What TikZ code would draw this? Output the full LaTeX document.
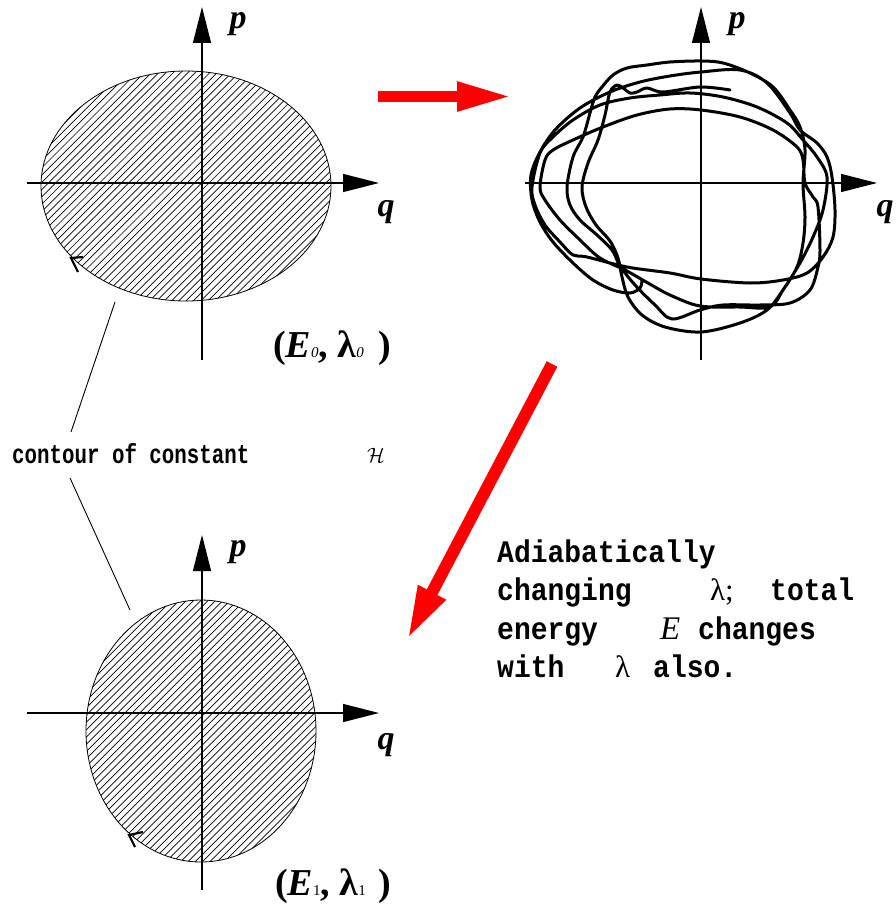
\documentclass[tikz,border=0pt]{standalone}
\usepackage{fontspec}
\setmainfont{Liberation Serif}
\newfontfamily\monofont{Liberation Mono}
\usetikzlibrary{arrows.meta}
\newcommand{\tallish}[1]{\scalebox{1}[1.12]{#1}}
\newcommand{\taller}[1]{\scalebox{1}[1.3]{#1}}
\begin{document}
\begin{tikzpicture}[x=1pt,y=-1pt,
  axis/.style={line width=1.2pt, -{Triangle[length=36pt,width=18pt]}},
  hatch/.style={line width=0.7pt},
  rim/.style={line width=0.8pt},
  chev/.style={line width=2.2pt, line join=miter},
  tangle/.style={line width=3pt, line join=round, line cap=round},
  bigarrow/.style={draw=red, line width=11pt, -{Triangle[length=55pt,width=27pt,fill=red]}},
  axlab/.style={font=\fontsize{34}{34}\selectfont\bfseries\itshape, inner sep=0pt},
  statelab/.style={font=\fontsize{38}{38}\selectfont\bfseries, inner sep=0pt, anchor=west},
  mono/.style={font=\monofont\bfseries\fontsize{28}{28}\selectfont, anchor=base west, inner sep=0pt},
  monosmall/.style={font=\monofont\bfseries\fontsize{20.8}{20.8}\selectfont, anchor=base west, inner sep=0pt},
  serifin/.style={font=\fontsize{31}{31}\selectfont, anchor=base west, inner sep=0pt},
  leader/.style={line width=0.9pt}
]
\useasboundingbox (0,0) rectangle (896,907);

% ---------- top-left: ellipse (E0, lambda0)
\begin{scope}
  \clip (186,186) ellipse [x radius=145pt, y radius=115pt];
  \foreach \c in {100,107.3,...,660} {\draw[hatch] (\c-400,400) -- (\c,0);}
\end{scope}
\draw[rim] (186,186) ellipse [x radius=145pt, y radius=115pt];
\coordinate (tlS) at (202,360); \coordinate (tlN) at (202,7);
\coordinate (tlW) at (27,183);  \coordinate (tlE) at (379,183);
\draw[axis] (tlS) -- (tlN);
\draw[axis] (tlW) -- (tlE);
\node[axlab] (tlp) at (238,24) {p};
\node[axlab] (tlq) at (386,212) {q};
\draw[chev] (83,257) -- (71,258) -- (78,272);
\node[statelab] (s0) at (273,348) {(\textit{E}{\fontsize{15}{15}\selectfont\mdseries\itshape 0},\hspace{0.25em}λ{\fontsize{15}{15}\selectfont\mdseries\itshape 0}\hspace{15pt})};

% ---------- top-right: tangled trajectory
\coordinate (trS) at (701,360); \coordinate (trN) at (701,7);
\coordinate (trW) at (525,183); \coordinate (trE) at (877,183);
\draw[axis] (trS) -- (trN);
\draw[axis] (trW) -- (trE);
\node[axlab] (trp) at (737,24) {p};
\node[axlab] (trq) at (885,212) {q};
\draw[tangle] plot[smooth, tension=0.55] coordinates {
 (730,90) (700,87) (663,92) (647,88) (637,92) (630,93) (623,88) (617,85) (610,92) (605,115) (598,140) (588,163) (582,187) (586,207) (596,225) (610,241) (618,258) (622,277) (628,297) (642,315) (665,327) (701,332) (740,323) (767,310) (783,290) (797,267) (803,243) (805,217) (803,183) (805,150) (800,127) (790,110) (773,87) (750,73) (723,63) (701,61) (670,62) (647,65) (627,68) (613,75) (602,87) (595,97) (590,113) (583,137) (573,157) (567,187) (570,205) (580,220) (597,235) (612,250) (620,266) (635,285) (655,305) (672,319) (700,310) (723,305) (760,305) (790,303) (810,290) (818,267) (820,250) (818,207) (813,197) (805,183) (803,160) (797,147) (773,130) (740,117) (701,110) (670,109) (637,115) (603,127) (573,140) (553,150) (545,160) (540,187) (545,200) (560,220) (580,240) (600,258) (625,270) (648,283) (670,295) (700,306) (740,307) (770,307) (783,290) (800,263) (813,237) (823,210) (827,177) (817,157) (803,140) (787,123) (757,107) (723,97) (690,93) (660,95) (630,98) (600,105) (573,120) (553,137) (540,153) (532,187) (535,205) (545,225) (560,242) (573,255) (587,257) (627,267) (670,273) (701,279) (750,283) (783,280) (807,273) (823,257) (833,237) (835,210) (832,177) (827,157) (817,143) (800,130) (790,113) (767,83) (740,70) (701,72) (670,76) (640,82) (610,92) (580,108) (555,130) (540,152) (531,175) (532,200) (540,222) (553,242) (573,263) (593,280) (613,290) (630,293) (640,288) (642,280)};

% ---------- red arrows
\coordinate (ra1) at (378,96.5); \coordinate (ra2) at (512,96.5);
\draw[bigarrow] (ra1) -- (ra2);
\coordinate (da1) at (552,364); \coordinate (da2) at (407,640);
\draw[bigarrow, line width=12pt, -{Triangle[length=54pt,width=28pt,fill=red]}] (da1) -- (da2);

% ---------- contour label and leaders
\node[monosmall] (contour) at (12,463) {\taller{contour of constant}};
\node[font=\fontsize{20}{20}\selectfont, inner sep=0pt] (ham) at (376,455) {$\mathcal{H}$};
\coordinate (ld1a) at (115,302); \coordinate (ld1b) at (71,432);
\coordinate (ld2a) at (70,478);  \coordinate (ld2b) at (130,610);
\draw[leader] (ld1a) -- (ld1b);
\draw[leader] (ld2a) -- (ld2b);

% ---------- bottom-left: ellipse (E1, lambda1)
\begin{scope}
  \clip (201,731) ellipse [x radius=115pt, y radius=131pt];
  \foreach \c in {670,677.3,...,1200} {\draw[hatch] (\c-900,900) -- (\c-560,560);}
\end{scope}
\draw[rim] (201,731) ellipse [x radius=115pt, y radius=131pt];
\coordinate (blS) at (202,890); \coordinate (blN) at (202,535);
\coordinate (blW) at (27,713);  \coordinate (blE) at (379,713);
\draw[axis] (blS) -- (blN);
\draw[axis] (blW) -- (blE);
\node[axlab] (blp) at (238,552) {p};
\node[axlab] (blq) at (386,745) {q};
\draw[chev] (143,832) -- (129,835) -- (135,847);
\node[statelab] (s1) at (275,886) {(\textit{E}{\fontsize{15}{15}\selectfont\mdseries 1},\hspace{0.25em}λ{\fontsize{15}{15}\selectfont\mdseries 1}\hspace{13pt})};

% ---------- explanatory text
\node[mono] (t1) at (497,562) {\tallish{Adiabatically}};
\node[mono] (t2a) at (497,600) {\tallish{changing}};
\node[serifin] (t2b) at (710,600) {λ;};
\node[mono] (t2c) at (770,600) {\tallish{total}};
\node[mono] (t3a) at (497,639) {\tallish{energy}};
\node[serifin, font=\fontsize{33}{33}\selectfont\itshape] (t3b) at (660,639) {E};
\node[mono] (t3c) at (698,639) {\tallish{changes}};
\node[mono] (t4a) at (497,677) {\tallish{with}};
\node[serifin] (t4b) at (615,677) {λ};
\node[mono] (t4c) at (653,677) {\tallish{also.}};
\end{tikzpicture}
\end{document}
